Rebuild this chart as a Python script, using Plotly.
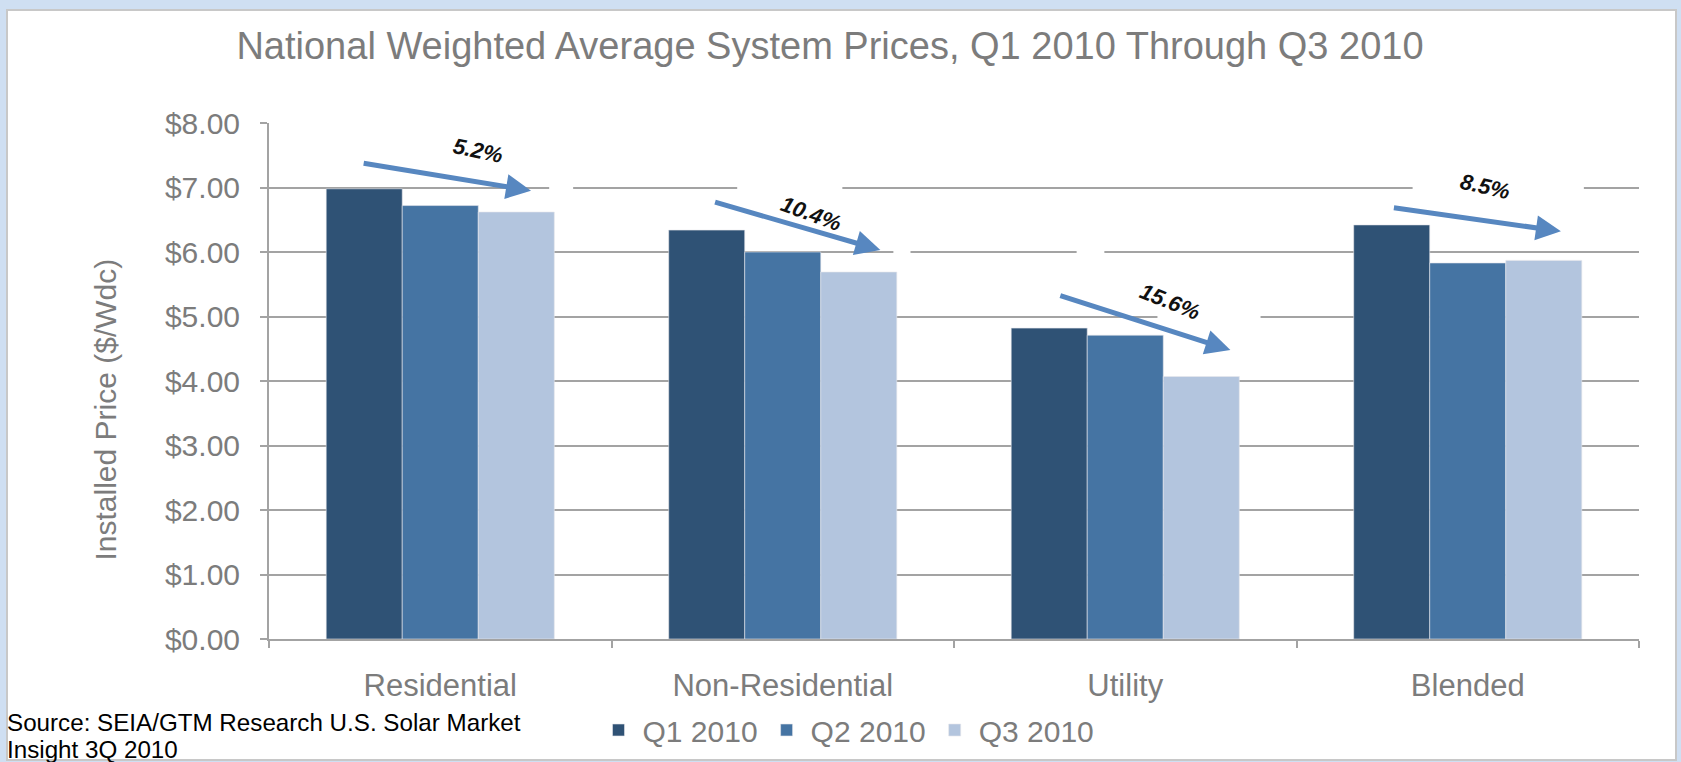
"""National weighted average PV system prices, Q1-Q3 2010 (SEIA/GTM)."""

import plotly.graph_objects as go

# ---- data ----------------------------------------------------------------
categories = ["Residential", "Non-Residential", "Utility", "Blended"]
q1_2010 = [6.98, 6.34, 4.82, 6.42]
q2_2010 = [6.72, 6.00, 4.71, 5.83]
q3_2010 = [6.62, 5.69, 4.07, 5.87]
drop_labels = ["5.2%", "10.4%", "15.6%", "8.5%"]

series_names = ["Q1 2010", "Q2 2010", "Q3 2010"]
y_ticks = [0, 1, 2, 3, 4, 5, 6, 7, 8]
y_tick_text = ["$%.2f" % v for v in y_ticks]

# ---- layout constants (pixels) -------------------------------------------
W, H = 1681, 762
L, R, T, B = 269, 42, 123, 123
PW, PH = W - L - R, H - T - B

COLORS = ["#2f5275", "#4574a3", "#b3c5de"]
GRAY = "#7c7c7c"
GRID = "#a3a3a3"
ARROW = "#5787c0"
FONT = "Liberation Sans, Arial, sans-serif"


def px_x(px):
    return (px - L) / PW


def px_y(py):
    return (H - B - py) / PH


fig = go.Figure()
for name, vals, col in zip(series_names, [q1_2010, q2_2010, q3_2010], COLORS):
    fig.add_trace(
        go.Bar(
            x=categories,
            y=vals,
            name=name,
            marker=dict(color=col, line=dict(width=1, color="rgba(230,230,235,0.6)")),
        )
    )

# arrows: (tail dx, tail y, head dx, head y) relative to category index
arrow_geom = [
    (-0.228, 7.38, 0.265, 6.95),
    (-0.202, 6.78, 0.285, 6.03),
    (-0.194, 5.33, 0.307, 4.48),
    (-0.220, 6.69, 0.272, 6.32),
]
# percent labels: (dx, y, angle)
label_geom = [(0.110, 7.58, 12), (0.082, 6.60, 20), (0.130, 5.24, 22), (0.050, 7.01, 13)]

annotations = []
for i, (lbl, ag, lg) in enumerate(zip(drop_labels, arrow_geom, label_geom)):
    annotations.append(
        dict(
            x=i + ag[2], y=ag[3], ax=i + ag[0], ay=ag[1],
            xref="x", yref="y", axref="x", ayref="y",
            text="", showarrow=True, arrowhead=2, arrowsize=1,
            arrowwidth=5, arrowcolor=ARROW, standoff=0, startstandoff=0,
        )
    )
    annotations.append(
        dict(
            x=i + lg[0], y=lg[1], xref="x", yref="y",
            text="<b><i>%s</i></b>" % lbl, showarrow=False, textangle=lg[2],
            font=dict(family=FONT, size=22, color="#111111"),
        )
    )

# y axis title and source note
annotations.append(
    dict(
        x=px_x(86), y=px_y(410), xref="paper", yref="paper",
        text="Installed Price ($/Wdc)", textangle=-90, showarrow=False,
        font=dict(family=FONT, size=30, color=GRAY),
    )
)
for txt, ypx in [("Source: SEIA/GTM Research U.S. Solar Market", 722), ("Insight 3Q 2010", 749)]:
    annotations.append(
        dict(
            x=px_x(5), y=px_y(ypx), xref="paper", yref="paper",
            xanchor="left", yanchor="middle", text=txt,
            showarrow=False, font=dict(family=FONT, size=24.2, color="#000000"),
        )
    )

shapes = [
    # white slide panel with thin grey frame
    dict(
        type="rect", xref="paper", yref="paper", layer="below",
        x0=px_x(7), x1=px_x(1676), y0=px_y(760), y1=px_y(10),
        fillcolor="white", line=dict(color="#c8c8c8", width=2),
    ),
]
# gridline breaks behind the percent text boxes
grid_gaps = [
    (-0.167, 0.049, 8), (0.318, 0.388, 7), (0.867, 1.174, 7), (1.323, 1.373, 6),
    (1.858, 1.939, 6), (2.094, 2.395, 5), (2.839, 3.339, 7),
]
for x0, x1, yv in grid_gaps:
    shapes.append(
        dict(
            type="rect", xref="x", yref="y", layer="between",
            x0=x0, x1=x1, y0=yv - 0.06, y1=yv + 0.06,
            fillcolor="white", line=dict(width=0),
        )
    )

fig.update_layout(
    width=W,
    height=H,
    margin=dict(l=L, r=R, t=T, b=B, autoexpand=False),
    paper_bgcolor="#cfdff2",
    plot_bgcolor="rgba(0,0,0,0)",
    barmode="group",
    bargap=0.334,
    bargroupgap=0,
    font=dict(family=FONT, size=30, color=GRAY),
    title=dict(
        text="National Weighted Average System Prices, Q1 2010 Through Q3 2010",
        x=830 / W, xanchor="center", y=1 - 46 / H, yanchor="middle",
        font=dict(family=FONT, size=38, color=GRAY),
    ),
    legend=dict(
        orientation="h", x=px_x(847), xanchor="center", y=px_y(730), yanchor="middle",
        font=dict(family=FONT, size=30, color=GRAY), bgcolor="rgba(0,0,0,0)",
        itemwidth=38, tracegroupgap=0,
    ),
    annotations=annotations,
    shapes=shapes,
)
fig.update_xaxes(
    showgrid=False, showline=True, linecolor=GRID, linewidth=2,
    ticks="outside", tickson="boundaries", ticklen=7, tickcolor=GRID, tickwidth=2,
    ticklabelstandoff=18, tickfont=dict(family=FONT, size=31, color=GRAY),
)
fig.update_yaxes(
    range=[0, 8], tickvals=y_ticks, ticktext=y_tick_text,
    showgrid=True, gridcolor=GRID, gridwidth=2, zeroline=False,
    showline=True, linecolor=GRID, linewidth=2,
    ticks="outside", ticklen=7, tickcolor=GRID, tickwidth=2,
    ticklabelstandoff=14, tickfont=dict(family=FONT, size=30, color=GRAY),
)

# drop the default 8px page margin so the figure fills the window exactly
fig.write_html(
    "out.html",
    config={"displayModeBar": False},
    post_script="document.body.style.margin='0';",
)
